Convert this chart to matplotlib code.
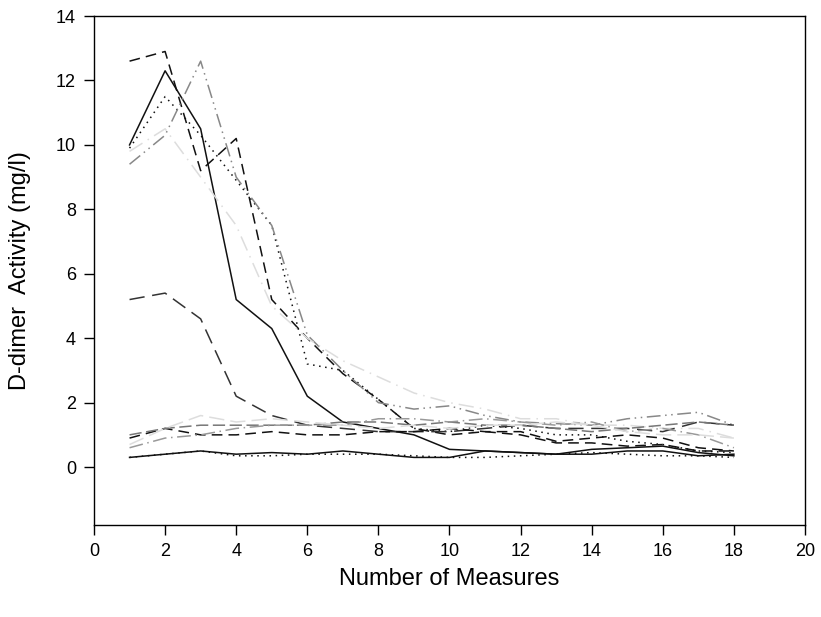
import numpy as np
import matplotlib
matplotlib.use("Agg")
import matplotlib.pyplot as plt

plt.rcParams["font.family"] = ["Liberation Sans", "DejaVu Sans"]

measures = np.arange(1, 19)

# high starting patients
h_solid = [10.0, 12.3, 10.5, 5.2, 4.3, 2.2, 1.4, 1.2, 1.0, 0.55, 0.5, 0.45, 0.4, 0.55, 0.6, 0.65, 0.45, 0.35]
h_dash = [12.6, 12.9, 9.2, 10.2, 5.2, 4.0, 2.9, 2.1, 1.2, 1.0, 1.1, 1.0, 0.75, 0.75, 0.65, 0.7, 0.5, 0.5]
h_dot = [9.9, 11.5, 10.3, 8.9, 7.5, 3.2, 3.0, 2.1, 1.2, 1.1, 1.3, 1.2, 1.0, 1.0, 0.8, 0.7, 0.5, 0.45]
h_gray_dd = [9.4, 10.3, 12.6, 9.0, 7.5, 4.1, 3.0, 2.0, 1.8, 1.9, 1.6, 1.4, 1.35, 1.3, 1.5, 1.6, 1.7, 1.3]
h_light = [9.8, 10.5, 9.0, 7.5, 5.0, 4.0, 3.3, 2.8, 2.3, 2.0, 1.8, 1.5, 1.5, 1.3, 1.3, 1.2, 1.2, 0.9]
h_mid = [5.2, 5.4, 4.6, 2.2, 1.6, 1.3, 1.2, 1.1, 1.1, 1.1, 1.2, 1.3, 1.2, 1.2, 1.2, 1.1, 1.4, 1.3]

# low starting patients
l_solid = [0.3, 0.4, 0.5, 0.4, 0.45, 0.4, 0.5, 0.4, 0.3, 0.3, 0.5, 0.45, 0.4, 0.4, 0.5, 0.5, 0.35, 0.4]
l_dot = [0.3, 0.4, 0.5, 0.35, 0.35, 0.4, 0.4, 0.4, 0.35, 0.3, 0.3, 0.35, 0.4, 0.45, 0.4, 0.35, 0.35, 0.3]
l_dash = [0.9, 1.2, 1.0, 1.0, 1.1, 1.0, 1.0, 1.1, 1.1, 1.2, 1.1, 1.1, 0.8, 0.9, 1.0, 0.9, 0.6, 0.5]
l_gray = [1.0, 1.2, 1.3, 1.3, 1.3, 1.3, 1.4, 1.4, 1.3, 1.4, 1.3, 1.3, 1.2, 1.1, 1.2, 1.3, 1.4, 1.3]
l_gray_dd = [0.6, 0.9, 1.0, 1.2, 1.3, 1.3, 1.3, 1.5, 1.5, 1.4, 1.5, 1.4, 1.3, 1.4, 1.1, 1.2, 1.0, 0.6]
l_light = [0.7, 1.2, 1.6, 1.4, 1.5, 1.4, 1.3, 1.2, 1.3, 1.2, 1.3, 1.3, 1.4, 1.3, 1.1, 1.0, 1.0, 0.9]

fig = plt.figure(figsize=(8.21, 6.17), dpi=100)
ax = fig.add_axes([0.1145, 0.149, 0.866, 0.825])

lw = 1.1
ax.plot(measures, h_solid, color="#111111", lw=lw, ls="-")
ax.plot(measures, h_dash, color="#111111", lw=lw, dashes=(7, 4))
ax.plot(measures, h_dot, color="#111111", lw=lw, dashes=(1, 3))
ax.plot(measures, h_gray_dd, color="#888888", lw=lw, dashes=(9, 3, 1, 3, 1, 3))
ax.plot(measures, h_light, color="#dddddd", lw=lw, dashes=(10, 4, 1, 4))
ax.plot(measures, h_mid, color="#333333", lw=lw, dashes=(10, 5))

ax.plot(measures, l_solid, color="#111111", lw=lw, ls="-")
ax.plot(measures, l_dot, color="#111111", lw=lw, dashes=(1, 3))
ax.plot(measures, l_dash, color="#111111", lw=lw, dashes=(7, 4))
ax.plot(measures, l_gray, color="#777777", lw=lw, dashes=(8, 3))
ax.plot(measures, l_gray_dd, color="#999999", lw=lw, dashes=(9, 3, 1, 3))
ax.plot(measures, l_light, color="#dddddd", lw=lw, dashes=(10, 4))

ax.set_xlim(0, 20)
ax.set_ylim(-1.8, 14)
ax.set_xticks(np.arange(0, 21, 2))
ax.set_yticks(np.arange(0, 15, 2))
ax.tick_params(direction="out", length=7, width=1, labelsize=13, pad=6, top=False, right=False)
for s in ax.spines.values():
    s.set_linewidth(1.0)

ax.set_xlabel("Number of Measures", fontsize=17, va="center")
ax.set_ylabel("D-dimer  Activity (mg/l)", fontsize=17, va="center")
ax.xaxis.set_label_coords(0.5, -0.106)
ax.yaxis.set_label_coords(-0.104, 0.5)

fig.savefig("out.png", dpi=100)
